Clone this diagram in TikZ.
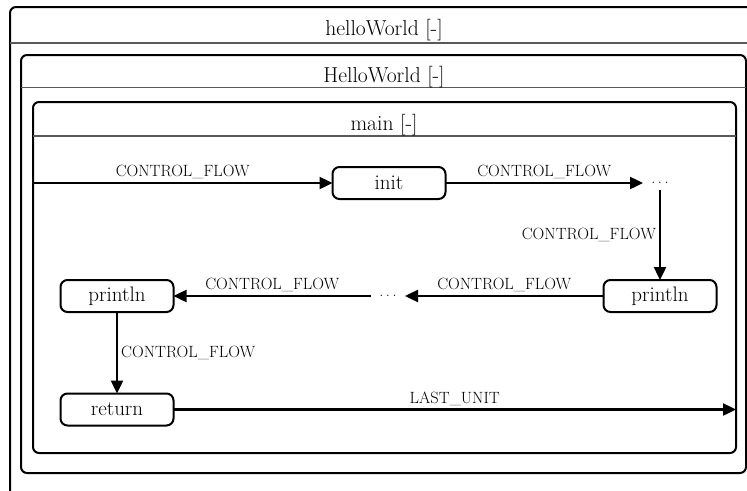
\documentclass[tikz,border=0pt]{standalone}
\usetikzlibrary{arrows.meta}
\begin{document}
\begin{tikzpicture}[x=1pt,y=-1pt,
  frame/.style={draw=black, line width=2pt, rounded corners=6pt, inner sep=0pt, outer sep=0pt, anchor=north west},
  sepline/.style={draw=black!65, line width=1.4pt},
  title/.style={font=\fontsize{21.6}{26}\selectfont, anchor=base, inner sep=0pt},
  unit/.style={draw, line width=2pt, rounded corners=7pt, minimum width=113pt, minimum height=32pt, inner sep=0pt, outer sep=0pt, font=\fontsize{21}{25}\selectfont},
  gap/.style={inner sep=0pt, outer sep=0pt, minimum width=34pt, minimum height=14pt, font=\fontsize{16.3}{19}\selectfont},
  flow/.style={line width=2.4pt, -{Triangle[length=13pt,width=12pt]}},
  lbl/.style={font=\fontsize{16.3}{19}\selectfont, inner sep=3pt}]
\useasboundingbox (0,0) rectangle (747,490);
\clip (0,0) rectangle (747,490);

% package frame (runs past the page on the right and bottom)
\node[frame, minimum width=760pt, minimum height=500pt] (pkg) at (10,7) {};
\draw[sepline] (10,43) -- (770,43);
\node[title] (pkgtitle) at (384,35) {helloWorld [-]};

% class frame
\node[frame, minimum width=725pt, minimum height=418pt] (cls) at (21,55) {};
\draw[sepline] (21,87.5) -- (746,87.5);
\node[title] (clstitle) at (384,82) {HelloWorld [-]};

% method frame
\node[frame, minimum width=703pt, minimum height=351pt] (mainbox) at (33,102) {};
\draw[sepline] (33,136) -- (736,136);
\node[title] (maintitle) at (384,130) {main [-]};

% units
\newcommand{\elided}{{.}\kern2.6pt{.}\kern2.6pt{.}}
\node[unit] (init) at (389,183) {init};
\node[gap] (dotsA) at (660,183) {\elided};
\node[unit] (printA) at (660,296) {println};
\node[gap] (dotsB) at (388,296) {\elided};
\node[unit] (printB) at (117,296) {println};
\node[unit] (ret) at (117,409.5) {return};

\coordinate (entry) at (mainbox.west |- init.west);
\coordinate (exit) at (mainbox.east |- ret.east);

% control flow
\draw[flow] (entry) -- node[lbl,above] {CONTROL\_FLOW} (init);
\draw[flow] (init) -- node[lbl,above] {CONTROL\_FLOW} (dotsA);
\draw[flow] (dotsA) -- node[lbl,left] {CONTROL\_FLOW} (printA);
\draw[flow] (printA) -- node[lbl,above] {CONTROL\_FLOW} (dotsB);
\draw[flow] (dotsB) -- node[lbl,above] {CONTROL\_FLOW} (printB);
\draw[flow] (printB) -- node[lbl,right] {CONTROL\_FLOW} (ret);
\draw[flow] (ret) -- node[lbl,above] {LAST\_UNIT} (exit);
\end{tikzpicture}
\end{document}
